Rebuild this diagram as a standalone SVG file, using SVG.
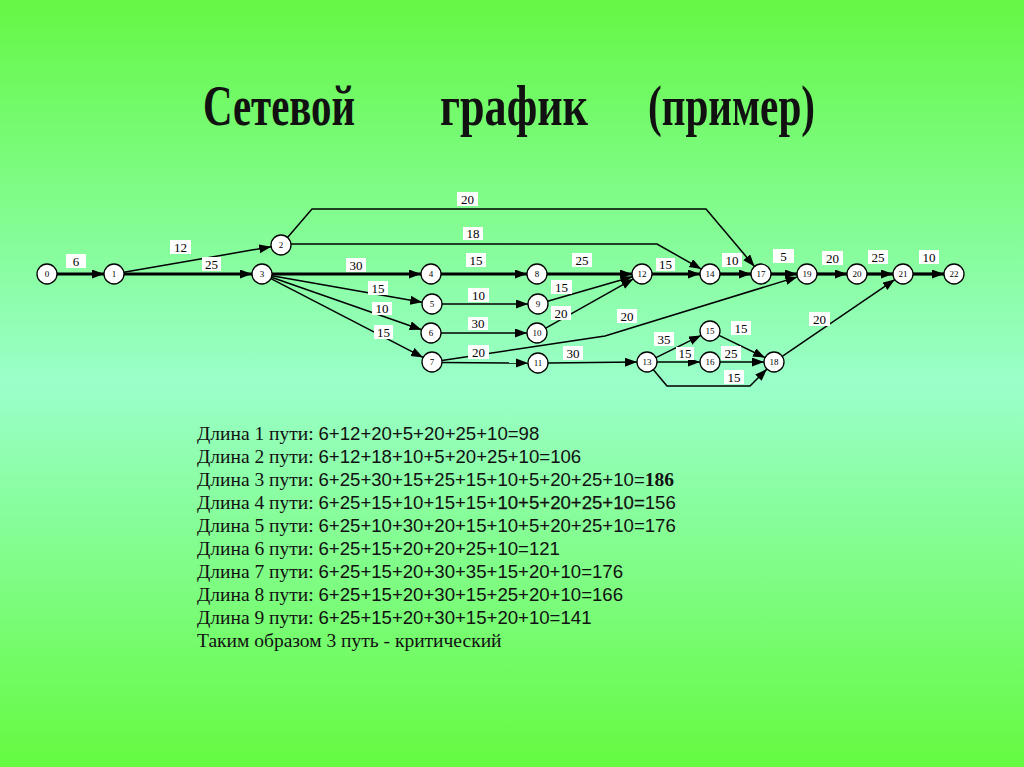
<svg xmlns="http://www.w3.org/2000/svg" width="1024" height="767" viewBox="0 0 1024 767">
<defs>
<linearGradient id="bg" x1="0" y1="0" x2="0" y2="1">
<stop offset="0" stop-color="#64f844"/>
<stop offset="0.5" stop-color="#9affca"/>
<stop offset="1" stop-color="#64fa40"/>
</linearGradient>
<marker id="ah" markerUnits="userSpaceOnUse" markerWidth="13" markerHeight="10" refX="12" refY="4.5" orient="auto" viewBox="0 0 13 10">
<path d="M0,0 L12,4.5 L0,9 z" fill="#000"/>
</marker>
<style>
.e{fill:none;stroke:#000;stroke-width:1.5;marker-end:url(#ah)}
.t{stroke-width:3.2}
.n circle{fill:#fff;stroke:#000;stroke-width:1.3}
.n text{font-family:"Liberation Serif",serif;font-size:9px;text-anchor:middle}
.lb rect{fill:#fff}
.lb text{font-family:"Liberation Serif",serif;font-size:13px;text-anchor:middle}
.s{font-family:"Liberation Serif",serif;font-size:19.5px;fill:#111}
.f{font-family:"Liberation Sans",sans-serif;font-size:18.6px}
</style>
</defs>
<rect width="1024" height="767" fill="url(#bg)"/>
<g id="title" font-family="'Liberation Serif',serif" font-weight="bold" font-size="56" fill="#111">
<text x="203" y="125" textLength="152" lengthAdjust="spacingAndGlyphs">Сетевой</text>
<text x="440" y="125" textLength="148" lengthAdjust="spacingAndGlyphs">график</text>
<text x="648" y="125" textLength="167" lengthAdjust="spacingAndGlyphs">(пример)</text>
</g>
<g id="connectors">
<line class="e t" x1="57" y1="274" x2="104" y2="274"/>
<line class="e" x1="123.9" y1="272.3" x2="271.2" y2="246.7"/>
<line class="e t" x1="124" y1="274" x2="252" y2="274"/>
<polyline class="e" points="287.5,237.4 312,209 706,209 754.5,266.4"/>
<polyline class="e" points="291,244 657,244 701.3,269.1"/>
<line class="e t" x1="272" y1="274" x2="421" y2="274"/>
<line class="e" x1="271.8" y1="275.7" x2="422.2" y2="302.3"/>
<line class="e" x1="271.4" y1="277.3" x2="421.6" y2="329.7"/>
<line class="e" x1="270.9" y1="278.6" x2="423.1" y2="357.4"/>
<line class="e t" x1="441" y1="274" x2="527" y2="274"/>
<line class="e" x1="442" y1="304" x2="528" y2="304"/>
<line class="e" x1="441" y1="333" x2="527" y2="333"/>
<line class="e" x1="442" y1="362.5" x2="528" y2="363"/>
<polyline class="e" points="441.9,360.5 605,336 797.4,276.9"/>
<line class="e t" x1="547" y1="274" x2="632" y2="274"/>
<line class="e" x1="547.6" y1="301.2" x2="632.4" y2="276.8"/>
<line class="e" x1="545.7" y1="328.1" x2="633.3" y2="278.9"/>
<line class="e" x1="548" y1="363" x2="637" y2="362"/>
<line class="e t" x1="652" y1="274" x2="700" y2="274"/>
<line class="e" x1="656" y1="357.6" x2="701" y2="335.4"/>
<line class="e" x1="657" y1="362" x2="700" y2="362"/>
<polyline class="e" points="653.4,369.7 667,386 750,386 766.9,369.1"/>
<line class="e t" x1="720" y1="274" x2="751" y2="274"/>
<line class="e" x1="719" y1="335.4" x2="765" y2="357.6"/>
<line class="e" x1="720" y1="362" x2="764" y2="362"/>
<line class="e t" x1="771" y1="274" x2="797" y2="274"/>
<line class="e" x1="782.2" y1="356.3" x2="894.8" y2="279.6"/>
<line class="e t" x1="817" y1="274" x2="847" y2="274"/>
<line class="e t" x1="867" y1="274" x2="893" y2="274"/>
<line class="e t" x1="913" y1="274" x2="944" y2="274"/>
</g>
<g id="edge-labels" class="lb">
<rect x="457" y="192" width="21" height="14"/><text x="467.5" y="203.5">20</text>
<rect x="463" y="227" width="20" height="13"/><text x="473" y="238">18</text>
<rect x="170" y="240" width="21" height="14"/><text x="180.5" y="251.5">12</text>
<rect x="66" y="254" width="20" height="14"/><text x="76" y="265.5">6</text>
<rect x="202" y="257" width="19" height="14"/><text x="211.5" y="268.5">25</text>
<rect x="346" y="258" width="20" height="14"/><text x="356" y="269.5">30</text>
<rect x="466" y="253" width="20" height="14"/><text x="476" y="264.5">15</text>
<rect x="368" y="281" width="20" height="14"/><text x="378" y="292.5">15</text>
<rect x="468" y="288" width="21" height="14"/><text x="478.5" y="299.5">10</text>
<rect x="372" y="302" width="20" height="13"/><text x="382" y="313">10</text>
<rect x="468" y="317" width="20" height="13"/><text x="478" y="328">30</text>
<rect x="374" y="325" width="19" height="14"/><text x="383.5" y="336.5">15</text>
<rect x="468" y="345" width="21" height="14"/><text x="478.5" y="356.5">20</text>
<rect x="572" y="253" width="20" height="14"/><text x="582" y="264.5">25</text>
<rect x="551" y="280" width="21" height="14"/><text x="561.5" y="291.5">15</text>
<rect x="551" y="306" width="20" height="14"/><text x="561" y="317.5">20</text>
<rect x="617" y="309" width="20" height="14"/><text x="627" y="320.5">20</text>
<rect x="656" y="258" width="19" height="13"/><text x="665.5" y="269">15</text>
<rect x="563" y="346" width="20" height="14"/><text x="573" y="357.5">30</text>
<rect x="654" y="332" width="20" height="14"/><text x="664" y="343.5">35</text>
<rect x="676" y="347" width="18" height="13"/><text x="685" y="358">15</text>
<rect x="731" y="321" width="20" height="14"/><text x="741" y="332.5">15</text>
<rect x="721" y="346" width="20" height="14"/><text x="731" y="357.5">25</text>
<rect x="724" y="370" width="20" height="14"/><text x="734" y="381.5">15</text>
<rect x="809" y="312" width="21" height="14"/><text x="819.5" y="323.5">20</text>
<rect x="722" y="253" width="20" height="14"/><text x="732" y="264.5">10</text>
<rect x="773" y="249" width="21" height="14"/><text x="783.5" y="260.5">5</text>
<rect x="822" y="251" width="21" height="14"/><text x="832.5" y="262.5">20</text>
<rect x="868" y="250" width="20" height="14"/><text x="878" y="261.5">25</text>
<rect x="919" y="250" width="20" height="14"/><text x="929" y="261.5">10</text>
</g>
<g id="n0" class="n"><circle cx="47" cy="274" r="10"/><text x="47" y="277">0</text></g>
<g id="n1" class="n"><circle cx="114" cy="274" r="10"/><text x="114" y="277">1</text></g>
<g id="n2" class="n"><circle cx="281" cy="245" r="10"/><text x="281" y="248">2</text></g>
<g id="n3" class="n"><circle cx="262" cy="274" r="10"/><text x="262" y="277">3</text></g>
<g id="n4" class="n"><circle cx="431" cy="274" r="10"/><text x="431" y="277">4</text></g>
<g id="n5" class="n"><circle cx="432" cy="304" r="10"/><text x="432" y="307">5</text></g>
<g id="n6" class="n"><circle cx="431" cy="333" r="10"/><text x="431" y="336">6</text></g>
<g id="n7" class="n"><circle cx="432" cy="362" r="10"/><text x="432" y="365">7</text></g>
<g id="n8" class="n"><circle cx="537" cy="274" r="10"/><text x="537" y="277">8</text></g>
<g id="n9" class="n"><circle cx="538" cy="304" r="10"/><text x="538" y="307">9</text></g>
<g id="n10" class="n"><circle cx="537" cy="333" r="10"/><text x="537" y="336">10</text></g>
<g id="n11" class="n"><circle cx="538" cy="363" r="10"/><text x="538" y="366">11</text></g>
<g id="n12" class="n"><circle cx="642" cy="274" r="10"/><text x="642" y="277">12</text></g>
<g id="n13" class="n"><circle cx="647" cy="362" r="10"/><text x="647" y="365">13</text></g>
<g id="n14" class="n"><circle cx="710" cy="274" r="10"/><text x="710" y="277">14</text></g>
<g id="n15" class="n"><circle cx="710" cy="331" r="10"/><text x="710" y="334">15</text></g>
<g id="n16" class="n"><circle cx="710" cy="362" r="10"/><text x="710" y="365">16</text></g>
<g id="n17" class="n"><circle cx="761" cy="274" r="10"/><text x="761" y="277">17</text></g>
<g id="n18" class="n"><circle cx="774" cy="362" r="10"/><text x="774" y="365">18</text></g>
<g id="n19" class="n"><circle cx="807" cy="274" r="10"/><text x="807" y="277">19</text></g>
<g id="n20" class="n"><circle cx="857" cy="274" r="10"/><text x="857" y="277">20</text></g>
<g id="n21" class="n"><circle cx="903" cy="274" r="10"/><text x="903" y="277">21</text></g>
<g id="n22" class="n"><circle cx="954" cy="274" r="10"/><text x="954" y="277">22</text></g>
<g id="paths" class="s">
<text x="197" y="440">Длина 1 пути: <tspan class="f">6+12+20+5+20+25+10=98</tspan></text>
<text x="197" y="463">Длина 2 пути: <tspan class="f">6+12+18+10+5+20+25+10=106</tspan></text>
<text x="197" y="486">Длина 3 пути: <tspan class="f">6+25+30+15+25+15+10+5+20+25+10=</tspan><tspan font-weight="bold">186</tspan></text>
<text x="197" y="509">Длина 4 пути: <tspan class="f">6+25+15+10+15+15+</tspan><tspan class="f" stroke="#111" stroke-width="0.25">10+5+20+25+10=</tspan><tspan class="f">156</tspan></text>
<text x="197" y="532">Длина 5 пути: <tspan class="f">6+25+10+30+20+15+10+5+20+25+10=176</tspan></text>
<text x="197" y="555">Длина 6 пути: <tspan class="f">6+25+15+20+20+25+10=121</tspan></text>
<text x="197" y="578">Длина 7 пути: <tspan class="f">6+25+15+20+30+35+15+20+10=176</tspan></text>
<text x="197" y="601">Длина 8 пути: <tspan class="f">6+25+15+20+30+15+25+20+10=166</tspan></text>
<text x="197" y="624">Длина 9 пути: <tspan class="f">6+25+15+20+30+15+20+10=141</tspan></text>
<text x="197" y="647">Таким образом 3 путь - критический</text>
</g>
</svg>
